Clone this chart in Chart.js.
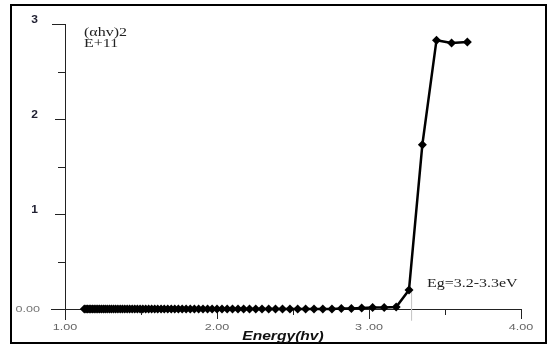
<!DOCTYPE html>
<html>
<head>
<meta charset="utf-8">
<script src="https://cdn.jsdelivr.net/npm/chart.js@4"></script>
<style>
  html, body { margin: 0; padding: 0; background: #fff; }
  #wrap { width: 550px; height: 347px; }
</style>
</head>
<body>
<div id="wrap"><canvas id="c" width="550" height="347"></canvas></div>
<script>
// Photon energy (eV) of each measured point
const energy = [
  1.127, 1.138, 1.148, 1.159, 1.170, 1.181, 1.192, 1.204, 1.216, 1.228,
  1.240, 1.253, 1.265, 1.278, 1.292, 1.305, 1.319, 1.333, 1.348, 1.363,
  1.378, 1.393, 1.409, 1.425, 1.442, 1.459, 1.476, 1.494, 1.512, 1.531,
  1.550, 1.570, 1.590, 1.610, 1.632, 1.653, 1.676, 1.699, 1.722, 1.746,
  1.771, 1.797, 1.824, 1.851, 1.879, 1.908, 1.938, 1.968, 2.000, 2.033,
  2.067, 2.102, 2.138, 2.175, 2.214, 2.255, 2.296, 2.340, 2.385, 2.431,
  2.480, 2.531, 2.583, 2.638, 2.696, 2.756, 2.818, 2.884, 2.952, 3.024,
  3.100, 3.179, 3.263, 3.351, 3.444, 3.543, 3.647
];
// (alpha*h*nu)^2 in units of 1E+11
const absorb = [
  0, 0, 0, 0, 0, 0, 0, 0, 0, 0,
  0, 0, 0, 0, 0, 0, 0, 0, 0, 0,
  0, 0, 0, 0, 0, 0, 0, 0, 0, 0,
  0, 0, 0, 0, 0, 0, 0, 0, 0, 0,
  0, 0, 0, 0, 0, 0, 0, 0, 0, 0,
  0, 0, 0, 0, 0, 0, 0, 0, 0, 0,
  0, 0, 0, 0, 0, 0, 0.005, 0.005, 0.01, 0.015,
  0.015, 0.02, 0.2, 1.73, 2.83, 2.80, 2.81
];
// Band-gap marker (extrapolated edge)
const gapX = [3.28, 3.28];
const gapY = [0.22, -0.12];

const xTicks = [1, 2, 3, 4];
const xMinor = [1.5, 2.5, 3.5];
const yTicks = [0, 1, 2, 3];
const yMinor = [0.5, 1.5, 2.5];
const xTickText = ['1.00', '2.00', '3 .00', '4.00'];
const yTickText = ['0.00', '1', '2', '3'];

const series = energy.map((e, i) => ({ x: e, y: absorb[i] }));
const gapLine = gapX.map((e, i) => ({ x: e, y: gapY[i] }));

// Text drawn wider than the font's natural width
function wideText(ctx, text, x, y, sx, align) {
  const w = ctx.measureText(text).width * sx;
  let left = x;
  if (align === 'center') left = x - w / 2;
  else if (align === 'right') left = x - w;
  ctx.save();
  ctx.translate(left, y);
  ctx.scale(sx, 1);
  ctx.textAlign = 'left';
  ctx.fillText(text, 0, 0);
  ctx.restore();
}

// Frame, axes with major/minor ticks, tick labels and the text notes
const decor = {
  id: 'decor',
  beforeDraw(chart) {
    const ctx = chart.ctx;
    ctx.save();
    ctx.strokeStyle = '#000';
    ctx.lineWidth = 2;
    ctx.strokeRect(11, 5, 535, 338);
    ctx.restore();
  },
  beforeDatasetsDraw(chart) {
    const ctx = chart.ctx;
    const xs = chart.scales.x, ys = chart.scales.y;
    const x0 = xs.getPixelForValue(1), y0 = ys.getPixelForValue(0);
    const xEnd = xs.getPixelForValue(4), yTop = ys.getPixelForValue(3);
    ctx.save();
    ctx.strokeStyle = '#222';
    ctx.lineWidth = 1;
    ctx.beginPath();
    ctx.moveTo(x0 - 14, y0 + 0.5); ctx.lineTo(xEnd, y0 + 0.5);
    ctx.moveTo(x0 + 0.5, yTop); ctx.lineTo(x0 + 0.5, y0 + 11);
    yTicks.forEach(v => { const p = Math.round(ys.getPixelForValue(v)) + 0.5; ctx.moveTo(x0 - (v === 3 ? 13 : 10), p); ctx.lineTo(x0, p); });
    yMinor.forEach(v => { const p = Math.round(ys.getPixelForValue(v)) + 0.5; ctx.moveTo(x0 - 7, p); ctx.lineTo(x0, p); });
    xTicks.forEach(v => { if (v === 1) return; const p = Math.round(xs.getPixelForValue(v)) + 0.5; ctx.moveTo(p, y0); ctx.lineTo(p, y0 + 10); });
    xMinor.forEach(v => { const p = Math.round(xs.getPixelForValue(v)) + 0.5; ctx.moveTo(p, y0); ctx.lineTo(p, y0 + 6); });
    ctx.stroke();

    ctx.textBaseline = 'alphabetic';
    // tick labels
    ctx.font = '9px Arial, "Liberation Sans", sans-serif';
    ctx.fillStyle = '#666';
    xTicks.forEach((v, i) => wideText(ctx, xTickText[i], xs.getPixelForValue(v), y0 + 21, 1.4, 'center'));
    yTicks.forEach((v, i) => {
      const p = ys.getPixelForValue(v);
      if (v === 0) {
        ctx.font = '9px Arial, "Liberation Sans", sans-serif';
        ctx.fillStyle = '#777';
        wideText(ctx, yTickText[i], 40, p + 3, 1.4, 'right');
      } else {
        ctx.font = 'bold 10px Arial, "Liberation Sans", sans-serif';
        ctx.fillStyle = '#223';
        wideText(ctx, yTickText[i], 38, p - 1, 1.2, 'right');
      }
    });
    // axis title
    ctx.fillStyle = '#111';
    ctx.font = 'italic bold 12px Arial, "Liberation Sans", sans-serif';
    wideText(ctx, 'Energy(hv)', 283, 340, 1.3, 'center');
    // notes
    ctx.fillStyle = '#222';
    ctx.font = '12px "Liberation Serif", serif';
    wideText(ctx, '(\u03b1hv)2', 84, 36, 1.33, 'left');
    wideText(ctx, 'E+11', 84, 47, 1.33, 'left');
    wideText(ctx, 'Eg=3.2-3.3eV', 427, 287, 1.33, 'left');
    ctx.restore();
  }
};

new Chart(document.getElementById('c'), {
  type: 'scatter',
  data: {
    datasets: [
      {
        data: gapLine,
        showLine: true,
        borderColor: '#c8c8c8',
        borderWidth: 1,
        pointRadius: 0,
        clip: false,
        order: 2
      },
      {
        data: series,
        showLine: true,
        borderColor: '#000',
        backgroundColor: '#000',
        borderWidth: 2.5,
        pointStyle: 'rectRot',
        pointRadius: 4.5,
        pointBorderWidth: 0,
        pointBackgroundColor: '#000',
        clip: false,
        order: 1
      }
    ]
  },
  plugins: [decor],
  options: {
    responsive: false,
    animation: false,
    events: [],
    layout: { padding: { left: 0, right: 29, top: 24, bottom: 0 } },
    plugins: { legend: { display: false }, tooltip: { enabled: false } },
    scales: {
      x: {
        type: 'linear',
        min: 1, max: 4,
        afterFit(s) { s.height = 38; },
        afterBuildTicks(s) { s.ticks = xTicks.map(v => ({ value: v })); },
        grid: { display: false, drawTicks: false },
        border: { display: false },
        ticks: { display: false }
      },
      y: {
        type: 'linear',
        min: 0, max: 3,
        afterFit(s) { s.width = 65; },
        afterBuildTicks(s) { s.ticks = yTicks.map(v => ({ value: v })); },
        grid: { display: false, drawTicks: false },
        border: { display: false },
        ticks: { display: false }
      }
    }
  }
});
</script>
</body>
</html>
